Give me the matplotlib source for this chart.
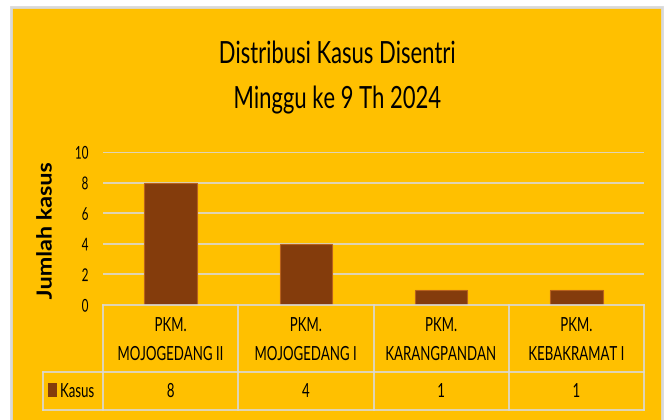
import matplotlib
matplotlib.use("Agg")
import matplotlib.pyplot as plt
from matplotlib.patches import Rectangle
from matplotlib.patheffects import AbstractPathEffect
from matplotlib.transforms import Affine2D

# ---- data ----
categories = ["PKM.\nMOJOGEDANG II", "PKM.\nMOJOGEDANG I", "PKM.\nKARANGPANDAN", "PKM.\nKEBAKRAMAT I"]
values = [8, 4, 1, 1]
series_name = "Kasus"
yticks = [0, 2, 4, 6, 8, 10]
title_lines = ["Distribusi Kasus Disentri", "Minggu ke 9 Th 2024"]
ylabel = "Jumlah kasus"

YELLOW = "#FFC000"
BAR = "#843C0C"
GRID = "#D9D9D9"
FONT = ["Lato", "Liberation Sans", "DejaVu Sans"]


class Tall(AbstractPathEffect):
    """Stretch glyphs vertically (emulates a condensed font at a taller size)."""

    def __init__(self, sy, anchor="baseline"):
        super().__init__()
        self.sy = sy
        self.anchor = anchor

    def draw_path(self, renderer, gc, tpath, affine, rgbFace=None):
        if self.anchor == "center":
            ext = tpath.get_extents()
            cy = (ext.y0 + ext.y1) / 2
        else:
            cy = 0.0
        t = Affine2D().translate(0, -cy).scale(1, self.sy).translate(0, cy) + affine
        renderer.draw_path(gc, tpath, t, rgbFace)


W, H = 665, 420
fig = plt.figure(figsize=(W / 100, H / 100), dpi=100, facecolor="white")


def fx(px):
    return px / W


def fy(py):
    return 1 - py / H


# panel
fig.add_artist(Rectangle((fx(10.5), fy(425)), fx(662) - fx(10.5), fy(7) - fy(425),
                         transform=fig.transFigure, facecolor=YELLOW,
                         edgecolor=GRID, linewidth=2, zorder=0))

# title
for i, line in enumerate(title_lines):
    fig.text(fx(337), fy(63 + 45 * i), line, ha="center", va="baseline",
             fontsize=15.85, family=FONT, color="black",
             path_effects=[Tall(1 / 0.72)])

# main axes
left, right, top, bottom = 103, 644, 152, 305
ax = fig.add_axes([fx(left), fy(bottom), fx(right) - fx(left), fy(top) - fy(bottom)])
ax.set_facecolor("none")
x = list(range(len(categories)))
ax.bar(x, values, width=0.39, color=BAR, edgecolor="#B8611C", linewidth=0.8, zorder=3)
ax.set_xlim(-0.5, len(categories) - 0.5)
ax.set_ylim(0, 10)
ax.set_yticks(yticks)
ax.set_yticklabels([str(t) for t in yticks], fontsize=8.4, family=FONT)
for lab in ax.get_yticklabels():
    lab.set_path_effects([Tall(1 / 0.66, "center")])
ax.tick_params(axis="y", length=0, pad=10.5)
ax.set_xticks([])
for t in yticks[1:]:
    ax.axhline(t, color=GRID, linewidth=1.2, zorder=1)
for s in ax.spines.values():
    s.set_visible(False)

fig.text(fx(46), fy(231), ylabel, rotation=90, ha="center", va="center",
         fontsize=16.8, fontweight="bold", family=FONT,
         path_effects=[Tall(0.893, "center")])

# data table
tl, tr, tt, tb = 42.5, 644, 305, 410
tab = fig.add_axes([fx(tl), fy(tb), fx(tr) - fx(tl), fy(tt) - fy(tb)])
tab.set_axis_off()
unit = (right - left) / len(categories)
x0 = -0.5 - (left - tl) / unit
n = len(categories)
tab.set_xlim(x0, n - 0.5)
tab.set_ylim(tb - tt, 0)
hdr = 67
rb = tb - tt
lk = dict(color=GRID, linewidth=1.2, clip_on=False)
tab.plot([-0.5, n - 0.5], [0, 0], **lk)
tab.plot([x0, n - 0.5], [hdr, hdr], **lk)
tab.plot([x0, n - 0.5], [rb, rb], **lk)
tab.plot([x0, x0], [hdr, rb], **lk)
for i in range(n + 1):
    tab.plot([i - 0.5, i - 0.5], [0, rb], **lk)
TS = 1 / 0.68
tk = dict(fontsize=9.52, family=FONT, va="baseline", ha="center")
for i, (c, v) in enumerate(zip(categories, values)):
    l1, l2 = c.split("\n")
    tab.text(i, 331 - tt, l1, path_effects=[Tall(TS)], **tk)
    tab.text(i, 360 - tt, l2, path_effects=[Tall(TS)], **tk)
    tab.text(i, 397 - tt, str(v), path_effects=[Tall(TS)], **tk)
tab.add_patch(Rectangle((x0 + 5.5 / unit, 78), 9 / unit, 14, facecolor=BAR,
                        edgecolor="none", clip_on=False))
tab.text(x0 + 17.5 / unit, 397 - tt, series_name, ha="left", va="baseline",
         fontsize=9.52, family=FONT, path_effects=[Tall(TS)])

fig.savefig("out.png", dpi=100, facecolor="white")
